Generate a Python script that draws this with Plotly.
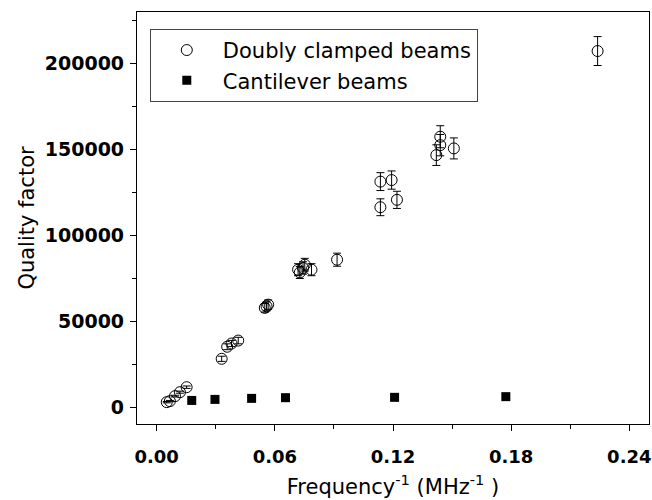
import plotly.graph_objects as go

# Doubly clamped beams: inverse frequency (MHz^-1), quality factor, error
dc_invfreq = [0.0051, 0.0067, 0.0093, 0.0118, 0.0152, 0.0330, 0.0358, 0.0380, 0.0414,
              0.0549, 0.0558, 0.0566, 0.0718, 0.0727, 0.0743, 0.0752, 0.0786, 0.0916,
              0.1136, 0.1136, 0.1193, 0.1220, 0.1420, 0.1440, 0.1440, 0.1509, 0.2239]
dc_q = [3200, 3800, 6700, 9000, 11900, 28400, 35400, 37300, 39000,
        58000, 58900, 59900, 80200, 78600, 81200, 83100, 80200, 86000,
        116500, 131400, 132300, 120800, 146800, 152600, 157500, 150700, 207300]
dc_err = [400, 400, 500, 600, 700, 1500, 1700, 1800, 1900,
          2500, 2600, 2700, 3500, 3500, 3600, 3700, 3500, 3800,
          4900, 5200, 5300, 5000, 6000, 6200, 6400, 6100, 8400]

# Cantilever beams
cl_invfreq = [0.0178, 0.0296, 0.0482, 0.0654, 0.1208, 0.1773]
cl_q = [4200, 4800, 5400, 5800, 6000, 6400]

x_ticks = [0.00, 0.06, 0.12, 0.18, 0.24]
y_ticks = [0, 50000, 100000, 150000, 200000]

FONT = "DejaVu Sans"

fig = go.Figure()
fig.add_trace(go.Scatter(
    x=dc_invfreq, y=dc_q, mode="markers", name="Doubly clamped beams",
    marker=dict(symbol="circle-open", size=11, color="black", line=dict(width=1)),
    error_y=dict(type="data", array=dc_err, visible=True, color="black",
                 thickness=1, width=4),
))
fig.add_trace(go.Scatter(
    x=cl_invfreq, y=cl_q, mode="markers", name="Cantilever beams",
    marker=dict(symbol="square", size=9, color="black"),
))

axis_common = dict(
    showline=True, linecolor="black", linewidth=1.2, mirror=True,
    showgrid=False, zeroline=False, ticks="outside", ticklen=6,
    tickwidth=1, tickcolor="black", automargin=False,
    ticklabeloverflow="allow",
)

fig.update_xaxes(
    range=[-0.01, 0.25], tickvals=x_ticks, ticktext=[f"{v:.2f}" for v in x_ticks],
    ticklabelstandoff=10,
    tickfont=dict(family=FONT, size=18, color="black", weight="bold"),
    minor=dict(dtick=0.03, tick0=0, ticks="outside", ticklen=4, tickcolor="black"),
    title=dict(text="Frequency<sup>-1</sup> (MHz<sup>-1</sup> )",
               font=dict(family=FONT, size=21, color="black"), standoff=13),
    **axis_common,
)
fig.update_yaxes(
    range=[-9500, 230000], tickvals=y_ticks, tickformat="d",
    ticklabelstandoff=2,
    tickfont=dict(family=FONT, size=19, color="black", weight="bold"),
    minor=dict(dtick=25000, tick0=0, ticks="outside", ticklen=4, tickcolor="black"),
    title=dict(text="Quality factor",
               font=dict(family=FONT, size=21, color="black"), standoff=4),
    **axis_common,
)

fig.update_layout(
    width=652, height=500,
    margin=dict(l=137, r=3, t=12, b=76),
    paper_bgcolor="white", plot_bgcolor="white",
    showlegend=True,
    legend=dict(
        x=0.025, y=0.959, xanchor="left", yanchor="top",
        bgcolor="white", bordercolor="#444", borderwidth=1,
        font=dict(family=FONT, size=21, color="black"),
        itemwidth=62, tracegroupgap=0,
    ),
)

fig.write_html("out.html")
